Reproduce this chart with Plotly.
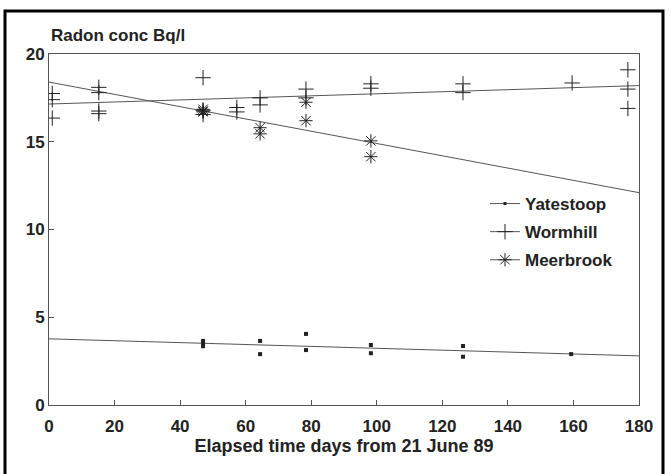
import plotly.graph_objects as go

# ---- data ----
yates_x = [47, 47, 47, 64.4, 64.4, 78.4, 78.4, 98.2, 98.2, 126.3, 126.3, 159.3]
yates_y = [3.65, 3.5, 3.35, 3.65, 2.9, 4.05, 3.13, 3.42, 2.95, 3.36, 2.75, 2.9]

worm_x = [1, 1, 1, 15.2, 15.2, 15.2, 15.2, 47, 47, 47, 57.3, 57.3, 64.4, 64.4,
          78.4, 78.4, 98.2, 98.2, 126.3, 126.3, 159.6, 176.6, 176.6, 176.6]
worm_y = [17.75, 17.4, 16.35, 18.1, 17.8, 16.75, 16.6, 18.65, 16.8, 16.55, 16.95, 16.7,
          17.5, 17.1, 18.0, 17.5, 18.3, 18.05, 18.3, 17.8, 18.35, 19.1, 18.0, 16.9]

meer_x = [47, 47, 47, 64.4, 64.4, 78.4, 78.4, 98.2, 98.2]
meer_y = [16.85, 16.75, 16.7, 15.8, 15.45, 17.25, 16.2, 15.05, 14.15]

trend_x = [0, 180]
yates_trend = [3.77, 2.8]
worm_trend = [17.15, 18.2]
meer_trend = [18.4, 12.1]

x_ticks = [0, 20, 40, 60, 80, 100, 120, 140, 160, 180]
y_ticks = [0, 5, 10, 15, 20]

INK = "#222222"
LINE = "#555555"
FONT = "Liberation Sans"

fig = go.Figure()

# trend lines
for ty in (yates_trend, worm_trend, meer_trend):
    fig.add_trace(go.Scatter(x=trend_x, y=ty, mode="lines",
                             line=dict(color=LINE, width=1), showlegend=False,
                             hoverinfo="skip"))

# data points
fig.add_trace(go.Scatter(x=yates_x, y=yates_y, mode="markers", showlegend=False,
                         marker=dict(symbol="square", size=4, color=INK)))
fig.add_trace(go.Scatter(x=worm_x, y=worm_y, mode="markers", showlegend=False,
                         marker=dict(symbol="cross-thin", size=11,
                                     line=dict(color=INK, width=1))))
fig.add_trace(go.Scatter(x=meer_x, y=meer_y, mode="markers", showlegend=False,
                         marker=dict(symbol="asterisk", size=11,
                                     line=dict(color=INK, width=1))))

# legend entries
legend_items = [("Yatestoop", dict(symbol="square", size=3, color=INK)),
                ("Wormhill", dict(symbol="cross-thin", size=11, line=dict(color=INK, width=1))),
                ("Meerbrook", dict(symbol="asterisk", size=11, line=dict(color=INK, width=1)))]
for name, mk in legend_items:
    fig.add_trace(go.Scatter(x=[None], y=[None], mode="lines+markers", name=name,
                             legendgroup=name, line=dict(color=LINE, width=1),
                             marker=mk))

W, H = 670, 474
L, R, T, B = 49, 31, 54, 69
pw, ph = W - L - R, H - T - B

def px_x(p):
    return (p - L) / pw

def px_y(p):
    return (H - B - p) / ph

tickfont = dict(family=FONT, size=17, color=INK, weight="bold")

fig.update_layout(
    width=W, height=H,
    margin=dict(l=L, r=R, t=T, b=B),
    paper_bgcolor="white", plot_bgcolor="white",
    font=dict(family=FONT, size=17, color=INK, weight="bold"),
    xaxis=dict(range=[0, 180], tickvals=x_ticks, ticks="inside", ticklen=5,
               tickcolor=LINE, showline=True, linecolor=LINE, linewidth=1,
               mirror=True, showgrid=False, zeroline=False,
               tickfont=tickfont, ticklabelstandoff=6,
               title=dict(text="Elapsed time days from 21 June 89", standoff=2,
                          font=dict(family=FONT, size=18, color=INK, weight="bold"))),
    yaxis=dict(range=[0, 20], tickvals=y_ticks, ticks="inside", ticklen=5,
               tickcolor=LINE, showline=True, linecolor=LINE, linewidth=1,
               mirror=True, showgrid=False, zeroline=False,
               tickfont=tickfont),
    legend=dict(x=px_x(485), y=px_y(186), xanchor="left", yanchor="top",
                bgcolor="rgba(0,0,0,0)", tracegroupgap=3,
                font=dict(family=FONT, size=17, color=INK, weight="bold")),
    annotations=[dict(text="Radon conc Bq/l", xref="paper", yref="paper",
                      x=px_x(49), y=px_y(36), xanchor="left", yanchor="middle",
                      showarrow=False,
                      font=dict(family=FONT, size=17, color=INK, weight="bold"))],
    shapes=[dict(type="rect", xref="paper", yref="paper",
                 x0=px_x(5), x1=px_x(663), y0=px_y(490), y1=px_y(11),
                 line=dict(color="black", width=3), layer="above")],
)

fig.write_html("out.html")
